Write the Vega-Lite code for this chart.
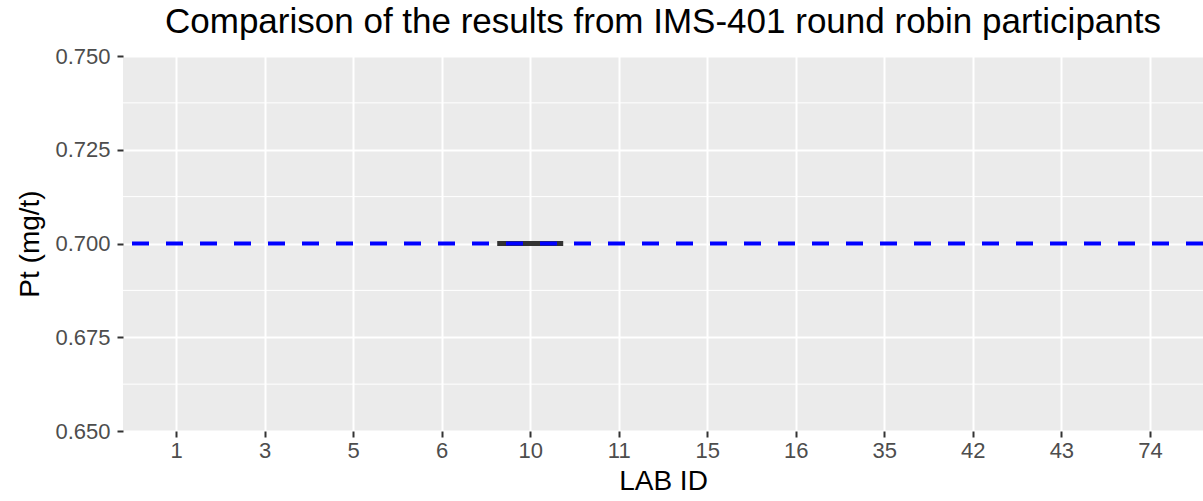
{
  "$schema": "https://vega.github.io/schema/vega-lite/v6.json",
  "width": 1080,
  "height": 375,
  "autosize": "none",
  "padding": {"left": 123, "top": 56, "right": 0, "bottom": 70},
  "background": "white",
  "title": {
    "text": "Comparison of the results from IMS-401 round robin participants",
    "font": "Liberation Sans",
    "fontSize": 35,
    "fontWeight": "normal",
    "color": "black",
    "anchor": "middle",
    "offset": 5
  },
  "config": {
    "view": {"fill": "#EBEBEB", "stroke": null},
    "axis": {
      "domain": false,
      "tickColor": "#333333",
      "tickWidth": 2,
      "tickSize": 6,
      "labelFont": "Liberation Sans",
      "labelFontSize": 22,
      "labelColor": "#4D4D4D",
      "titleFont": "Liberation Sans",
      "titleFontSize": 28,
      "titleFontWeight": "normal",
      "titleColor": "black",
      "gridColor": "white",
      "gridWidth": 2,
      "gridOpacity": 1
    },
    "axisX": {"labelAngle": 0, "labelPadding": 3, "titlePadding": 6},
    "axisY": {"labelPadding": 7, "titlePadding": 10}
  },
  "datasets": {
    "labs": [
      {"lab": "1", "Pt": null},
      {"lab": "3", "Pt": null},
      {"lab": "5", "Pt": null},
      {"lab": "6", "Pt": null},
      {"lab": "10", "Pt": 0.7},
      {"lab": "11", "Pt": null},
      {"lab": "15", "Pt": null},
      {"lab": "16", "Pt": null},
      {"lab": "35", "Pt": null},
      {"lab": "42", "Pt": null},
      {"lab": "43", "Pt": null},
      {"lab": "74", "Pt": null}
    ],
    "reference": [{"Pt": 0.7}],
    "minorGrid": [{"Pt": 0.6625}, {"Pt": 0.6875}, {"Pt": 0.7125}, {"Pt": 0.7375}]
  },
  "layer": [
    {
      "data": {"name": "minorGrid"},
      "mark": {"type": "rule", "color": "white", "strokeWidth": 1},
      "encoding": {
        "y": {"field": "Pt", "type": "quantitative", "title": "Pt (mg/t)",
              "scale": {"domain": [0.65, 0.75], "nice": false, "zero": false}}
      }
    },
    {
      "data": {"name": "labs"},
      "mark": {"type": "tick", "color": "#333333", "thickness": 5, "size": 66, "opacity": 1},
      "encoding": {
        "x": {
          "field": "lab", "type": "nominal", "title": "LAB ID", "sort": null,
          "scale": {"type": "point", "padding": 0.6,
                    "domain": ["1", "3", "5", "6", "10", "11", "15", "16", "35", "42", "43", "74"]},
          "axis": {"grid": true}
        },
        "y": {
          "field": "Pt", "type": "quantitative", "title": "Pt (mg/t)",
          "axis": {"values": [0.65, 0.675, 0.7, 0.725, 0.75], "format": ".3f", "grid": true}
        }
      }
    },
    {
      "data": {"name": "reference"},
      "mark": {"type": "rule", "color": "#0000FF", "strokeWidth": 4, "strokeDash": [17, 17]},
      "encoding": {
        "y": {"field": "Pt", "type": "quantitative", "title": "Pt (mg/t)"}
      }
    }
  ]
}
